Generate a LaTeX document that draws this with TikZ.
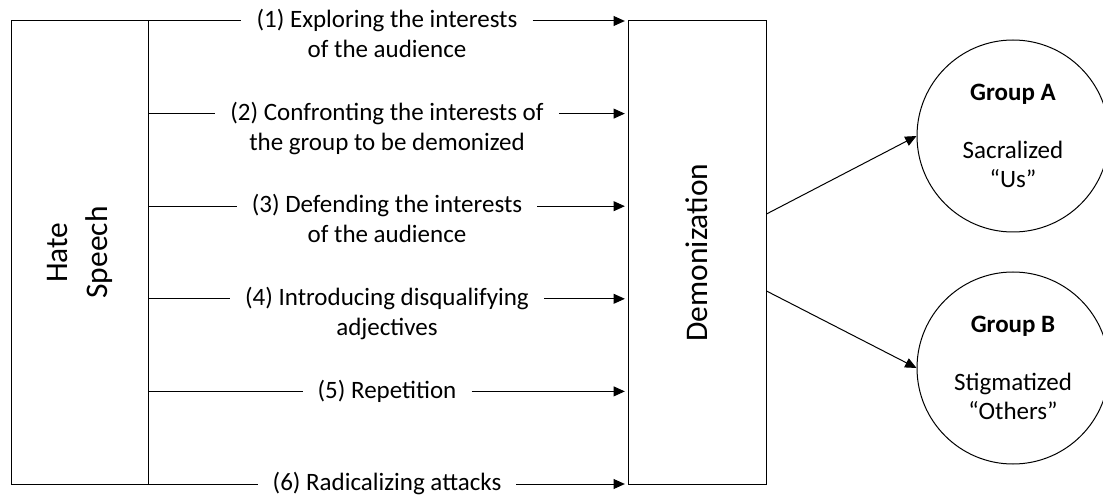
\documentclass[tikz,border=0pt]{standalone}
\usepackage{fontspec}
\setmainfont{Carlito}
\usetikzlibrary{arrows.meta}

\tikzset{every picture/.style={line width=0.75pt}}
\tikzset{
  box/.style={draw, inner sep=0pt, minimum height=347.25pt},
  lbl/.style={inner xsep=11pt, inner ysep=0pt, text height=15.875pt, text depth=5.875pt, font=\fontsize{18.75}{21.75}\selectfont},
  grp/.style={draw, circle, inner sep=0pt, minimum size=144pt, align=center, font=\fontsize{18.75}{21.75}\selectfont},
  arr/.style={-{Triangle[length=8.5pt,width=7.5pt]}},
}

\begin{document}
\begin{tikzpicture}[x=0.75pt,y=0.75pt,yscale=-1,xscale=1]
\useasboundingbox (0,0) rectangle (1103,495);

%Shape: Rectangle [hate]
\node[box, minimum width=102.75pt] (hate) at (79.5,252.5) {\rotatebox{90}{\fontsize{23.6}{30}\selectfont\begin{tabular}{@{}c@{}}Hate\\Speech\end{tabular}}};
%Shape: Rectangle [demon]
\node[box, minimum width=103.5pt] (demon) at (697,252.5) {\rotatebox{90}{\fontsize{23.6}{30}\selectfont Demonization}};

% Text Node
\node[lbl, label={[lbl]below:of the audience}] (l1) at (387,21) {(1) Exploring the interests};
% Text Node
\node[lbl, label={[lbl]below:the group to be demonized}] (l2) at (387,113.6) {(2) Confronting the interests of};
% Text Node
\node[lbl, label={[lbl]below:of the audience}] (l3) at (387,206.2) {(3) Defending the interests};
% Text Node
\node[lbl, label={[lbl]below:adjectives}] (l4) at (387,298.8) {(4) Introducing disqualifying};
% Text Node
\node[lbl] (l5) at (387,391.4) {(5) Repetition};
% Text Node
\node[lbl] (l6) at (387,484) {(6) Radicalizing attacks};

%Straight Lines
\foreach \i in {1,...,6}{
  \draw (hate.east |- l\i) -- (l\i);
  \draw[arr, shorten >=2pt] (l\i) -- (demon.west |- l\i);
}

%Shape: Circle
\node[grp] (ga) at (1013,136) {\textbf{Group A}\\[21.75pt]Sacralized\\``Us''};
%Shape: Circle
\node[grp] (gb) at (1013,368) {\textbf{Group B}\\[21.75pt]Stigmatized\\``Others''};

\coordinate (outA) at (demon.east |- 0,214);
\coordinate (outB) at (demon.east |- 0,291);
%Straight Lines
\draw[arr] (outA) -- (ga.west);
\draw[arr] (outB) -- (gb.west);

\end{tikzpicture}
\end{document}
